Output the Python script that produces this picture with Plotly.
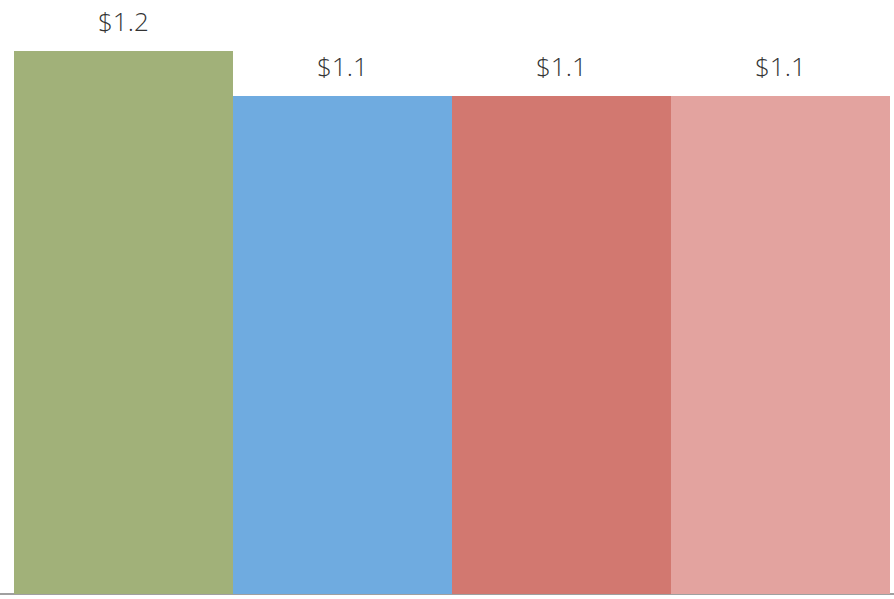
import plotly.graph_objects as go

categories = ["A", "B", "C", "D"]
values = [1.2, 1.1, 1.1, 1.1]
labels = ["$1.2", "$1.1", "$1.1", "$1.1"]
colors = ["#A1B179", "#6FABE0", "#D27870", "#E3A39F"]

fig = go.Figure()
fig.add_trace(go.Bar(
    x=list(range(len(categories))),
    y=values,
    marker=dict(color=colors, line=dict(width=0)),
    width=1.0,
    hoverinfo="skip",
))

for i, (v, t) in enumerate(zip(values, labels)):
    fig.add_annotation(
        x=i, y=v, xref="x", yref="y", text=t, showarrow=False,
        yanchor="middle", yshift=30,
        font=dict(family="Open Sans", size=26, color="#333333", weight=300),
    )

fig.update_layout(
    width=894, height=599,
    margin=dict(l=0, r=0, t=0, b=5),
    paper_bgcolor="white", plot_bgcolor="white",
    bargap=0, showlegend=False,
    xaxis=dict(range=[-0.564, 3.518], showticklabels=False, showgrid=False,
               zeroline=False, showline=False, ticks=""),
    yaxis=dict(range=[0, 1.3127], showticklabels=False, showgrid=False,
               zeroline=True, zerolinecolor="#A0A0A0", zerolinewidth=2,
               showline=False, ticks=""),
)

fig.write_html("out.html",
               config={"displayModeBar": False},
               post_script="document.body.style.margin='0';document.body.style.overflow='hidden';")
